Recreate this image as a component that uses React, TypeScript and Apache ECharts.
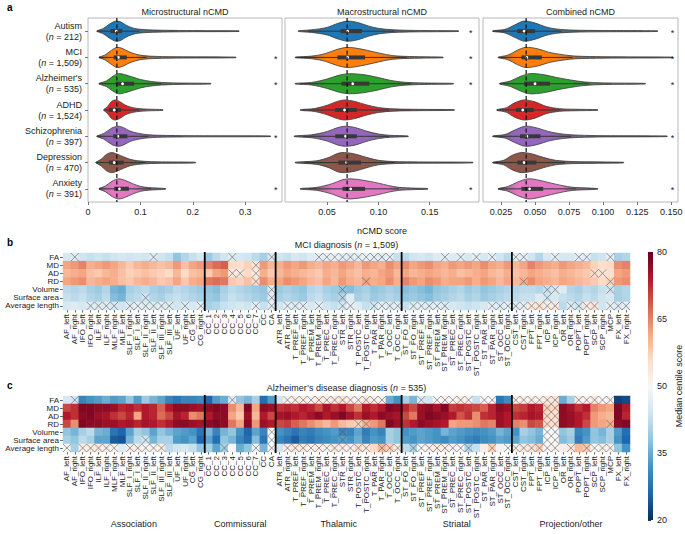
import React, { useEffect, useRef } from "react";
import * as echarts from "echarts";

const FONT = "'Liberation Sans', Arial, Helvetica, sans-serif";

// ---------- Panel a data ----------
const groups = ["Autism", "MCI", "Alzheimer's", "ADHD", "Schizophrenia", "Depression", "Anxiety"];
const groupN = ["212", "1,509", "535", "1,524", "397", "470", "391"];
const violinColors = ["#1f77b4", "#ff7f0e", "#2ca02c", "#d62728", "#9467bd", "#8c564b", "#e377c2"];

// density outlines: [x, relative half-width]
const microShapes = [
  [[0.017, 0], [0.028, 0.2], [0.04, 0.65], [0.05, 0.95], [0.056, 1], [0.063, 0.9], [0.072, 0.6], [0.082, 0.35], [0.095, 0.18], [0.115, 0.1], [0.15, 0.05], [0.2, 0.02], [0.288, 0]],
  [[0.021, 0], [0.032, 0.2], [0.045, 0.7], [0.055, 1], [0.065, 0.9], [0.078, 0.55], [0.09, 0.32], [0.105, 0.15], [0.13, 0.07], [0.18, 0.03], [0.282, 0]],
  [[0.021, 0], [0.035, 0.25], [0.048, 0.75], [0.058, 1], [0.07, 0.9], [0.085, 0.65], [0.1, 0.4], [0.12, 0.2], [0.14, 0.1], [0.17, 0.04], [0.234, 0]],
  [[0.03, 0], [0.037, 0.3], [0.045, 0.85], [0.052, 1], [0.06, 0.85], [0.07, 0.5], [0.08, 0.28], [0.095, 0.12], [0.115, 0.05], [0.143, 0]],
  [[0.017, 0], [0.03, 0.25], [0.045, 0.8], [0.057, 1], [0.068, 0.85], [0.08, 0.5], [0.095, 0.28], [0.115, 0.12], [0.15, 0.05], [0.22, 0.02], [0.348, 0]],
  [[0.015, 0], [0.025, 0.3], [0.035, 0.8], [0.045, 1], [0.055, 0.85], [0.068, 0.55], [0.08, 0.3], [0.095, 0.15], [0.12, 0.06], [0.16, 0.03], [0.205, 0]],
  [[0.021, 0], [0.033, 0.25], [0.046, 0.75], [0.058, 1], [0.07, 0.85], [0.085, 0.5], [0.1, 0.22], [0.115, 0.1], [0.148, 0]],
];
const macroShapes = [
  [[0.022, 0], [0.035, 0.1], [0.05, 0.35], [0.06, 0.75], [0.07, 1], [0.08, 0.85], [0.09, 0.5], [0.1, 0.25], [0.115, 0.1], [0.135, 0.04], [0.178, 0]],
  [[0.019, 0], [0.035, 0.1], [0.048, 0.35], [0.06, 0.8], [0.07, 1], [0.082, 0.85], [0.095, 0.55], [0.108, 0.25], [0.12, 0.1], [0.14, 0.04], [0.163, 0]],
  [[0.019, 0], [0.035, 0.1], [0.05, 0.45], [0.062, 0.85], [0.072, 1], [0.085, 0.9], [0.1, 0.6], [0.112, 0.3], [0.125, 0.12], [0.145, 0.04], [0.173, 0]],
  [[0.024, 0], [0.038, 0.12], [0.05, 0.45], [0.06, 0.85], [0.067, 1], [0.077, 0.85], [0.088, 0.5], [0.1, 0.22], [0.115, 0.08], [0.14, 0.03], [0.174, 0]],
  [[0.018, 0], [0.035, 0.12], [0.05, 0.45], [0.06, 0.85], [0.068, 1], [0.078, 0.85], [0.088, 0.5], [0.1, 0.2], [0.112, 0.06], [0.129, 0]],
  [[0.019, 0], [0.04, 0.15], [0.052, 0.5], [0.06, 0.9], [0.067, 1], [0.077, 0.85], [0.09, 0.45], [0.1, 0.2], [0.115, 0.07], [0.14, 0.03], [0.192, 0]],
  [[0.024, 0], [0.04, 0.12], [0.055, 0.5], [0.065, 0.9], [0.073, 1], [0.085, 0.85], [0.1, 0.55], [0.11, 0.3], [0.12, 0.12], [0.135, 0.04], [0.148, 0]],
];
const combinedShapes = [
  [[0.019, 0], [0.028, 0.15], [0.035, 0.6], [0.042, 1], [0.05, 0.8], [0.058, 0.4], [0.066, 0.18], [0.078, 0.07], [0.1, 0.03], [0.14, 0]],
  [[0.023, 0], [0.03, 0.2], [0.037, 0.7], [0.043, 1], [0.052, 0.85], [0.06, 0.5], [0.07, 0.25], [0.08, 0.1], [0.1, 0.04], [0.151, 0]],
  [[0.024, 0], [0.032, 0.25], [0.039, 0.7], [0.046, 1], [0.056, 0.9], [0.066, 0.6], [0.076, 0.35], [0.086, 0.15], [0.1, 0.05], [0.131, 0]],
  [[0.022, 0], [0.029, 0.2], [0.035, 0.7], [0.042, 1], [0.05, 0.8], [0.058, 0.35], [0.068, 0.1], [0.08, 0.04], [0.096, 0]],
  [[0.019, 0], [0.028, 0.15], [0.035, 0.6], [0.043, 1], [0.052, 0.8], [0.06, 0.45], [0.07, 0.2], [0.082, 0.08], [0.1, 0.03], [0.147, 0]],
  [[0.019, 0], [0.027, 0.2], [0.033, 0.7], [0.04, 1], [0.048, 0.85], [0.056, 0.5], [0.065, 0.2], [0.078, 0.07], [0.115, 0]],
  [[0.023, 0], [0.03, 0.2], [0.037, 0.65], [0.045, 1], [0.053, 0.85], [0.062, 0.55], [0.07, 0.3], [0.078, 0.12], [0.096, 0]],
];
// [q1, median, q3]
const microBoxes = [[0.043, 0.054, 0.065], [0.049, 0.058, 0.074], [0.053, 0.066, 0.088], [0.04, 0.05, 0.063], [0.048, 0.057, 0.075], [0.04, 0.05, 0.068], [0.05, 0.06, 0.078]];
const macroBoxes = [[0.063, 0.07, 0.084], [0.06, 0.07, 0.087], [0.064, 0.075, 0.091], [0.058, 0.067, 0.079], [0.058, 0.068, 0.079], [0.061, 0.069, 0.083], [0.065, 0.073, 0.087]];
const combinedBoxes = [[0.037, 0.042, 0.05], [0.04, 0.044, 0.055], [0.042, 0.05, 0.061], [0.036, 0.041, 0.049], [0.039, 0.044, 0.054], [0.037, 0.042, 0.051], [0.04, 0.046, 0.056]];
const microStars = [false, true, true, false, true, false, true];
const macroStars = [true, true, true, false, false, false, true];
const combinedStars = [true, true, true, false, true, false, true];
const referenceValues = [0.055, 0.0695, 0.0435];
const starPositions = [0.358, 0.19, 0.151];
const panelTitles = ["Microstructural nCMD", "Macrostructural nCMD", "Combined nCMD"];
const microTicks = [0, 0.1, 0.2, 0.3];
const macroTicks = [0.05, 0.1, 0.15];
const combinedTicks = [0.025, 0.05, 0.075, 0.1, 0.125, 0.15];

// ---------- Panels b, c data ----------
const tracts = [
  "AF_left", "AF_right", "IFO_left", "IFO_right", "ILF_left", "ILF_right", "MLF_right", "MLF_left", "SLF_I_right", "SLF_I_left", "SLF_II_right", "SLF_II_left", "SLF_III_right", "SLF_III_left", "UF_left", "UF_right", "CG_left", "CG_right",
  "CC_1", "CC_2", "CC_3", "CC_4", "CC_5", "CC_6", "CC_7", "CC", "CA",
  "ATR_left", "ATR_right", "T_PREF_left", "T_PREF_right", "T_PREM_left", "T_PREM_right", "T_PREC_left", "T_PREC_right", "STR_left", "STR_right", "T_POSTC_left", "T_POSTC_right", "T_PAR_left", "T_PAR_right", "T_OCC_left", "T_OCC_right",
  "ST_FO_left", "ST_FO_right", "ST_PREF_left", "ST_PREF_right", "ST_PREM_left", "ST_PREM_right", "ST_PREC_left", "ST_PREC_right", "ST_POSTC_left", "ST_POSTC_right", "ST_PAR_left", "ST_PAR_right", "ST_OCC_left", "ST_OCC_right",
  "CST_left", "CST_right", "FPT_left", "FPT_right", "ICP_left", "ICP_right", "OR_left", "OR_right", "POPT_left", "POPT_right", "SCP_left", "SCP_right", "MCP", "FX_left", "FX_right",
];
const measures = ["FA", "MD", "AD", "RD", "Volume", "Surface area", "Average length"];
const tractGroups = ["Association", "Commissural", "Thalamic", "Striatal", "Projection/other"];
const groupBounds = [0, 18, 27, 43, 57, 72];
const colorbarTicks = [20, 35, 50, 65, 80];

const mciFA = [45,46,44,43,44,43,44,45,44,45,44,46,44,43,38,41,43,45, 39,42,44,46,45,44,42,40,46, 44,43,45,44,46,47,47,48,47,46,47,48,47,46,47,43, 42,44,45,44,46,47,46,47,45,47,45,47,44,42, 47,47,44,41,45,47,45,45,47,47,43,44,47,40,41];
const mciMD = [62,63,65,61,62,63,62,60,58,60,61,60,59,60,63,59,62,63, 65,67,68,56,55,57,54,63,60, 61,63,62,63,61,60,62,61,63,62,60,63,62,61,64,62, 64,62,63,64,62,61,63,62,63,62,64,62,61,63, 60,62,65,63,62,61,63,62,61,60,57,55,56,64,65];
const mciAD = [60,61,62,59,58,60,61,59,57,58,59,58,57,56,60,56,59,60, 58,62,63,53,53,56,53,61,58, 60,62,61,60,59,58,61,60,62,60,59,61,60,62,63,60, 62,60,61,62,61,60,61,59,60,61,62,60,59,61, 59,60,62,61,60,59,61,60,59,58,56,54,55,62,63];
const mciRD = [62,63,64,60,61,62,61,59,58,60,61,60,58,59,62,58,61,62, 66,67,66,58,57,59,55,64,61, 62,64,63,62,60,59,62,60,63,61,60,62,61,62,64,61, 65,63,62,64,63,61,62,62,63,61,63,62,60,62, 60,61,64,62,61,60,62,61,60,59,58,56,57,63,64];
const mciVolume = [42,41,42,40,39,41,36,35,40,41,42,40,39,40,42,41,40,39, 38,37,40,42,41,40,39,38,46, 39,40,39,38,41,42,40,39,38,37,39,40,38,39,40,39, 37,38,37,36,38,39,40,41,39,40,38,39,40,41, 41,42,42,41,43,45,46,41,40,42,41,43,44,40,41];
const mciSurface = [43,42,43,41,40,42,37,36,41,42,44,41,40,42,43,42,41,40, 39,38,41,43,42,41,40,39,46, 40,41,40,39,42,43,41,40,41,46,40,41,39,40,41,40, 38,39,38,37,39,40,41,42,40,41,39,40,41,42, 42,43,43,46,44,45,43,42,41,43,42,44,45,40,41];
const mciLength = [45,46,45,46,46,46,45,44,46,47,46,46,47,46,44,46,45,47, 40,41,43,44,45,44,47,43,47, 44,47,46,47,45,47,44,43,45,47,46,43,44,47,46,47, 43,46,47,46,47,46,45,44,43,44,45,47,46,47, 46,47,53,54,52,53,42,46,44,53,54,44,47,46,47];
const mciNotSig = [
  [1,11,21,26,32,33,34,35,36,37,38,39,40,41,48,50,52,54,57,58,62,65,66,69],
  [24],
  [21,22,24,67,68],
  [24,38,58,69],
  [26,35,61,62,69],
  [10,26,35,61],
  [3,4,5,6,8,9,10,11,12,13,15,17,24,26,28,29,30,32,35,36,39,40,41,42,44,45,46,47,48,54,55,56,57,58,59,60,61,62,64,65,66,67,69,70,71],
];

const adFA = [45,44,30,32,33,35,33,34,38,33,39,36,34,30,28,30,30,31, 26,33,35,46,38,36,40,27,33, 44,51,52,52,51,53,52,53,54,52,51,53,52,51,35,32, 40,36,46,44,50,51,50,52,51,43,50,50,28,31, 51,52,52,51,53,54,35,40,52,51,53,50,51,22,23];
const adMD = [70,72,78,78,77,77,76,73,74,72,74,73,68,74,77,77,76,75, 77,78,77,64,60,78,62,77,76, 72,73,72,74,73,70,75,72,74,70,66,74,72,74,78,77, 73,70,76,77,75,78,71,72,71,70,68,73,77,76, 70,71,74,73,57,56,77,75,72,74,65,63,62,78,74];
const adAD = [74,72,77,78,76,75,72,70,73,62,74,73,67,70,75,73,64,66, 74,77,77,62,58,76,60,74,70, 75,76,74,73,75,77,74,76,78,75,72,76,74,77,76,75, 70,66,76,78,77,76,74,69,72,64,72,73,76,74, 72,73,75,74,56,55,77,76,74,72,63,61,60,78,73];
const adRD = [70,64,78,77,77,76,76,74,75,73,75,74,72,74,77,77,76,75, 77,78,77,66,62,77,63,76,74, 70,71,68,66,64,62,60,63,60,58,57,61,63,66,78,76, 72,74,77,76,75,74,62,63,63,64,66,65,76,74, 65,64,70,69,56,55,77,76,74,70,63,62,61,77,78];
const adVolume = [38,36,40,42,36,35,28,26,34,40,38,34,38,36,34,33,32,28, 36,30,36,38,32,26,34,30,50, 32,30,28,30,29,31,32,33,30,30,34,29,32,30,40,38, 32,33,34,33,32,36,34,33,32,31,32,33,36,34, 32,40,38,36,50,50,38,40,30,32,38,36,40,33,27];
const adSurface = [40,38,42,40,34,34,25,24,36,42,44,36,40,40,33,32,34,26, 34,27,38,36,30,27,37,28,50, 30,28,25,29,28,30,31,32,33,32,35,30,33,32,40,38, 33,32,34,33,32,31,33,32,30,29,31,32,34,33, 34,38,37,35,50,50,37,39,29,33,38,37,40,32,26];
const adLength = [50,40,52,53,53,52,51,46,52,52,50,51,52,42,44,45,43,38, 40,34,40,50,35,38,49,36,50, 44,52,53,53,51,52,51,53,52,51,55,53,56,60,57,52, 42,40,50,52,53,52,51,50,41,43,52,57,51,50, 52,53,54,57,50,51,52,53,60,58,50,52,51,38,32];
const adNotSig = [
  [1,21,28,29,30,31,32,33,34,35,36,37,38,39,40,45,47,48,49,50,51,53,54,57,58,59,60,61,62,65,66,67,68,69],
  [61,62],
  [61,62],
  [37,38,61,62,69],
  [26,35,61,62],
  [10,26,35,61,62],
  [0,2,3,4,5,6,8,9,10,11,12,20,24,26,28,29,30,31,32,33,34,35,36,37,38,40,41,42,44,45,46,47,48,49,50,51,54,56,57,58,59,60,61,62,64,66,67,68,69],
];

const RDBU_R = ["#053061", "#2166ac", "#4393c3", "#92c5de", "#d1e5f0", "#f7f7f7", "#fddbc7", "#f4a582", "#d6604d", "#b2182b", "#67001f"];

function buildHeat(rows: number[][]) {
  const out: number[][] = [];
  rows.forEach((row, r) => row.forEach((v, c) => out.push([c, r, v])));
  return out;
}
function buildMask(rows: number[][]) {
  const out: number[][] = [];
  rows.forEach((cols, r) => cols.forEach((c) => out.push([c, r])));
  return out;
}

function hexToRgb(h: string) {
  const n = parseInt(h.slice(1), 16);
  return [(n >> 16) & 255, (n >> 8) & 255, n & 255];
}
function mix(hex: string, gray: number[], t: number) {
  const c = hexToRgb(hex);
  const r = c.map((v, k) => Math.round(gray[k] + (v - gray[k]) * t));
  return `rgb(${r[0]},${r[1]},${r[2]})`;
}

function violinRenderer(shapes: number[][][], boxes: number[][], stars: boolean[], starX: number) {
  return (params: any, api: any) => {
    const i = params.dataIndex;
    const knots = shapes[i];
    const yc = api.coord([knots[0][0], i])[1];
    const band = Math.abs(api.size([0, 1])[1]);
    const hw = band * 0.37;
    const top = knots.map(([x, w]) => [api.coord([x, i])[0], yc - w * hw - 0.35]);
    const bot = knots.slice().reverse().map(([x, w]) => [api.coord([x, i])[0], yc + w * hw + 0.35]);
    const x0 = top[0][0];
    const x1 = top[top.length - 1][0];
    const grey = [95, 95, 95];
    const stops = knots.map(([x, w], k) => ({
      offset: Math.min(1, Math.max(0, (top[k][0] - x0) / (x1 - x0))),
      color: mix(violinColors[i], grey, Math.min(1, w / 0.3)),
    }));
    const fill = new echarts.graphic.LinearGradient(x0, 0, x1, 0, stops, true);
    const [q1, med, q3] = boxes[i];
    const iqr = q3 - q1;
    const lo = Math.max(knots[0][0], q1 - 1.5 * iqr);
    const hi = Math.min(knots[knots.length - 1][0], q3 + 1.5 * iqr);
    const xq1 = api.coord([q1, i])[0];
    const xq3 = api.coord([q3, i])[0];
    const children: any[] = [
      {
        type: "polygon",
        shape: { points: top.concat(bot), smooth: 0.3 },
        style: { fill, stroke: "#3a3a3a", lineWidth: 0.8 },
      },
      {
        type: "line",
        shape: { x1: api.coord([lo, i])[0], y1: yc, x2: api.coord([hi, i])[0], y2: yc },
        style: { stroke: "#333", lineWidth: 1 },
      },
      {
        type: "rect",
        shape: { x: xq1, y: yc - 2, width: xq3 - xq1, height: 4 },
        style: { fill: "#383838" },
      },
      {
        type: "circle",
        shape: { cx: api.coord([med, i])[0], cy: yc, r: 1.4 },
        style: { fill: "#ffffff" },
      },
    ];
    if (stars[i]) {
      children.push({
        type: "text",
        x: api.coord([starX, i])[0],
        y: yc + 1.5,
        style: { text: "*", fontSize: 9, fontFamily: FONT, fill: "#222", align: "center", verticalAlign: "middle" },
      });
    }
    return { type: "group", children };
  };
}

function dashedRenderer(params: any, api: any) {
  const cs = params.coordSys;
  const x = api.coord([api.value(0), 0])[0];
  return {
    type: "line",
    shape: { x1: x, y1: cs.y, x2: x, y2: cs.y + cs.height },
    style: { stroke: "#111", lineWidth: 1.2, lineDash: [4, 2.5] },
  };
}

function hatchRenderer(params: any, api: any) {
  const c = api.coord([api.value(0), api.value(1)]);
  const s = api.size([1, 1]);
  const w = Math.abs(s[0]) / 2;
  const h = Math.abs(s[1]) / 2;
  const st = { stroke: "#5a5a5a", lineWidth: 0.6 };
  return {
    type: "group",
    children: [
      { type: "line", shape: { x1: c[0] - w, y1: c[1] - h, x2: c[0] + w, y2: c[1] + h }, style: st },
      { type: "line", shape: { x1: c[0] - w, y1: c[1] + h, x2: c[0] + w, y2: c[1] - h }, style: st },
    ],
  };
}

function dividerRenderer(params: any, api: any) {
  const cs = params.coordSys;
  const c = api.coord([api.value(0), 0]);
  const s = api.size([1, 1]);
  const x = c[0] - Math.abs(s[0]) / 2;
  return {
    type: "line",
    shape: { x1: x, y1: cs.y - 1, x2: x, y2: cs.y + cs.height + 1 },
    style: { stroke: "#000", lineWidth: 1.8 },
  };
}

function colorbarRenderer(params: any) {
  const cs = params.coordSys;
  const stops = RDBU_R.slice().reverse().map((color, k) => ({ offset: k / (RDBU_R.length - 1), color }));
  return {
    type: "rect",
    shape: { x: cs.x, y: cs.y, width: cs.width, height: cs.height },
    style: { fill: new echarts.graphic.LinearGradient(0, 0, 0, 1, stops) },
  };
}

const axisLabelStyle = { fontSize: 9, color: "#222", fontFamily: FONT };

function valueXAxis(gridIndex: number, min: number, max: number, ticks: number[], digits: number, name?: string) {
  return {
    type: "value",
    gridIndex,
    min,
    max,
    axisLine: { show: false },
    splitLine: { show: false },
    axisTick: { show: true, length: 3, lineStyle: { color: "#777" }, customValues: ticks },
    axisLabel: {
      ...axisLabelStyle,
      margin: 5,
      customValues: ticks,
      formatter: (v: number) => (v === 0 ? "0" : v.toFixed(digits)),
    },
    name: name || "",
    nameLocation: "middle",
    nameGap: 24,
    nameTextStyle: { fontSize: 9, color: "#222", fontFamily: FONT },
  };
}

function catYAxis(gridIndex: number, showLabels: boolean) {
  return {
    type: "category",
    gridIndex,
    data: groups,
    inverse: true,
    axisLine: { show: false },
    axisTick: { show: showLabels, alignWithLabel: true, length: 3, lineStyle: { color: "#777" } },
    axisLabel: showLabels
      ? {
          show: true,
          interval: 0,
          margin: 6,
          lineHeight: 11,
          formatter: (v: string, idx: number) => `{a|${v}}\n{a|(}{i|n}{a| = ${groupN[idx]})}`,
          rich: {
            a: { fontSize: 9, color: "#222", fontFamily: FONT, lineHeight: 11 },
            i: { fontSize: 9, color: "#222", fontFamily: FONT, fontStyle: "italic", lineHeight: 11 },
          },
          align: "right",
        }
      : { show: false },
  };
}

function heatXAxis(gridIndex: number) {
  return {
    type: "category",
    gridIndex,
    data: tracts,
    axisLine: { show: false },
    axisTick: { show: true, alignWithLabel: true, interval: 0, length: 2.5, lineStyle: { color: "#666" } },
    axisLabel: { interval: 0, rotate: 90, fontSize: 8, color: "#222", fontFamily: FONT, margin: 4 },
    splitLine: { show: false },
  };
}
function heatYAxis(gridIndex: number) {
  return {
    type: "category",
    gridIndex,
    data: measures,
    inverse: true,
    axisLine: { show: false },
    axisTick: { show: true, alignWithLabel: true, interval: 0, length: 3, lineStyle: { color: "#666" } },
    axisLabel: { interval: 0, fontSize: 8, lineHeight: 8, color: "#222", fontFamily: FONT, margin: 4 },
  };
}

export default function App() {
  const ref = useRef<HTMLDivElement>(null);
  useEffect(() => {
    if (!ref.current) return;
    const chart = echarts.init(ref.current, undefined, { renderer: "svg" });

    const heatB = buildHeat([mciFA, mciMD, mciAD, mciRD, mciVolume, mciSurface, mciLength]);
    const heatC = buildHeat([adFA, adMD, adAD, adRD, adVolume, adSurface, adLength]);
    const maskB = buildMask(mciNotSig);
    const maskC = buildMask(adNotSig);
    const dividers = groupBounds.slice(1, 5).map((b) => [b, 0]);

    const allShapes = [microShapes, macroShapes, combinedShapes];
    const allBoxes = [microBoxes, macroBoxes, combinedBoxes];
    const allStars = [microStars, macroStars, combinedStars];

    const violinSeries: any[] = [];
    const dashSeries: any[] = [];
    for (let p = 0; p < 3; p++) {
      violinSeries.push({
        type: "custom",
        xAxisIndex: p,
        yAxisIndex: p,
        z: 2,
        renderItem: violinRenderer(allShapes[p], allBoxes[p], allStars[p], starPositions[p]),
        encode: { x: 0, y: 1 },
        data: allBoxes[p].map((b, i) => [b[1], i]),
        silent: true,
      });
      dashSeries.push({
        type: "custom",
        xAxisIndex: p,
        yAxisIndex: p,
        z: 5,
        renderItem: dashedRenderer,
        encode: { x: 0, y: 1 },
        data: [[referenceValues[p], 0]],
        silent: true,
      });
    }

    const gridCenters = [88 + 97, 285 + 97, 483 + 97.5];
    const colW = 567 / tracts.length;
    const graphics: any[] = [
      { type: "text", x: 7, y: 2, style: { text: "a", font: `bold 10px ${FONT}`, fill: "#000" } },
      { type: "text", x: 7, y: 237, style: { text: "b", font: `bold 10px ${FONT}`, fill: "#000" } },
      { type: "text", x: 7, y: 380, style: { text: "c", font: `bold 10px ${FONT}`, fill: "#000" } },
      ...panelTitles.map((t, k) => ({
        type: "text",
        x: gridCenters[k],
        y: 12,
        style: { text: t, fontSize: 9, fontFamily: FONT, fill: "#222", align: "center", verticalAlign: "middle" },
      })),
      {
        type: "text",
        x: 63 + 567 / 2,
        y: 245,
        style: {
          text: "{a|MCI diagnosis (}{i|n}{a| = 1,509)}",
          rich: {
            a: { fontSize: 9, fontFamily: FONT, fill: "#222" },
            i: { fontSize: 9, fontFamily: FONT, fill: "#222", fontStyle: "italic" },
          },
          align: "center",
          verticalAlign: "middle",
        },
      },
      {
        type: "text",
        x: 63 + 567 / 2,
        y: 388,
        style: {
          text: "{a|Alzheimer’s disease diagnosis (}{i|n}{a| = 535)}",
          rich: {
            a: { fontSize: 9, fontFamily: FONT, fill: "#222" },
            i: { fontSize: 9, fontFamily: FONT, fill: "#222", fontStyle: "italic" },
          },
          align: "center",
          verticalAlign: "middle",
        },
      },
      ...tractGroups.map((g, k) => ({
        type: "text",
        x: 63 + ((groupBounds[k] + groupBounds[k + 1]) / 2) * colW,
        y: 524,
        style: { text: g, fontSize: 9, fontFamily: FONT, fill: "#222", align: "center", verticalAlign: "middle" },
      })),
    ];

    const option: any = {
      animation: false,
      backgroundColor: "#ffffff",
      textStyle: { fontFamily: FONT },
      grid: [
        { left: 88, top: 18, width: 194, height: 184, show: true, borderColor: "#b8b8b8", borderWidth: 1, outerBoundsMode: "none" },
        { left: 285, top: 18, width: 194, height: 184, show: true, borderColor: "#b8b8b8", borderWidth: 1, outerBoundsMode: "none" },
        { left: 483, top: 18, width: 195, height: 184, show: true, borderColor: "#b8b8b8", borderWidth: 1, outerBoundsMode: "none" },
        { left: 63, top: 253, width: 567, height: 57, outerBoundsMode: "none" },
        { left: 63, top: 396, width: 567, height: 56, outerBoundsMode: "none" },
        { left: 648, top: 252, width: 5, height: 268, outerBoundsMode: "none" },
      ],
      xAxis: [
        valueXAxis(0, 0, 0.37, microTicks, 1),
        valueXAxis(1, 0.009, 0.198, macroTicks, 2, "nCMD score"),
        valueXAxis(2, 0.0118, 0.155, combinedTicks, 3),
        heatXAxis(3),
        heatXAxis(4),
        { type: "value", gridIndex: 5, min: 0, max: 1, show: false },
      ],
      yAxis: [
        catYAxis(0, true),
        catYAxis(1, false),
        catYAxis(2, false),
        heatYAxis(3),
        heatYAxis(4),
        {
          type: "value",
          gridIndex: 5,
          min: 20,
          max: 80,
          interval: 15,
          position: "right",
          axisLine: { show: false },
          splitLine: { show: false },
          axisTick: { show: true, length: 3, lineStyle: { color: "#333" } },
          axisLabel: { fontSize: 9, color: "#222", fontFamily: FONT, margin: 4, customValues: colorbarTicks },
          name: "Median centile score",
          nameLocation: "middle",
          nameRotate: 90,
          nameGap: 21,
          nameTextStyle: { fontSize: 9, color: "#222", fontFamily: FONT },
        },
      ],
      visualMap: {
        type: "continuous",
        show: false,
        min: 20,
        max: 80,
        dimension: 2,
        seriesIndex: [6, 7],
        inRange: { color: RDBU_R },
      },
      series: [
        ...violinSeries,
        ...dashSeries,
        {
          type: "heatmap",
          xAxisIndex: 3,
          yAxisIndex: 3,
          data: heatB,
          itemStyle: { borderWidth: 0 },
          emphasis: { disabled: true },
          silent: true,
        },
        {
          type: "heatmap",
          xAxisIndex: 4,
          yAxisIndex: 4,
          data: heatC,
          itemStyle: { borderWidth: 0 },
          emphasis: { disabled: true },
          silent: true,
        },
        { type: "custom", xAxisIndex: 3, yAxisIndex: 3, z: 4, renderItem: hatchRenderer, encode: { x: 0, y: 1 }, data: maskB, silent: true },
        { type: "custom", xAxisIndex: 4, yAxisIndex: 4, z: 4, renderItem: hatchRenderer, encode: { x: 0, y: 1 }, data: maskC, silent: true },
        { type: "custom", xAxisIndex: 3, yAxisIndex: 3, z: 5, renderItem: dividerRenderer, encode: { x: 0, y: 1 }, data: dividers, silent: true },
        { type: "custom", xAxisIndex: 4, yAxisIndex: 4, z: 5, renderItem: dividerRenderer, encode: { x: 0, y: 1 }, data: dividers, silent: true },
        { type: "custom", xAxisIndex: 5, yAxisIndex: 5, renderItem: colorbarRenderer, encode: { x: 0, y: 1 }, data: [[0.5, 50]], silent: true },
      ],
      graphic: graphics,
    };
    chart.setOption(option);
    return () => chart.dispose();
  }, []);

  return (
    <div
      ref={ref}
      style={{ position: "absolute", left: 0, top: 0, width: 685, height: 534, background: "#fff" }}
    />
  );
}
